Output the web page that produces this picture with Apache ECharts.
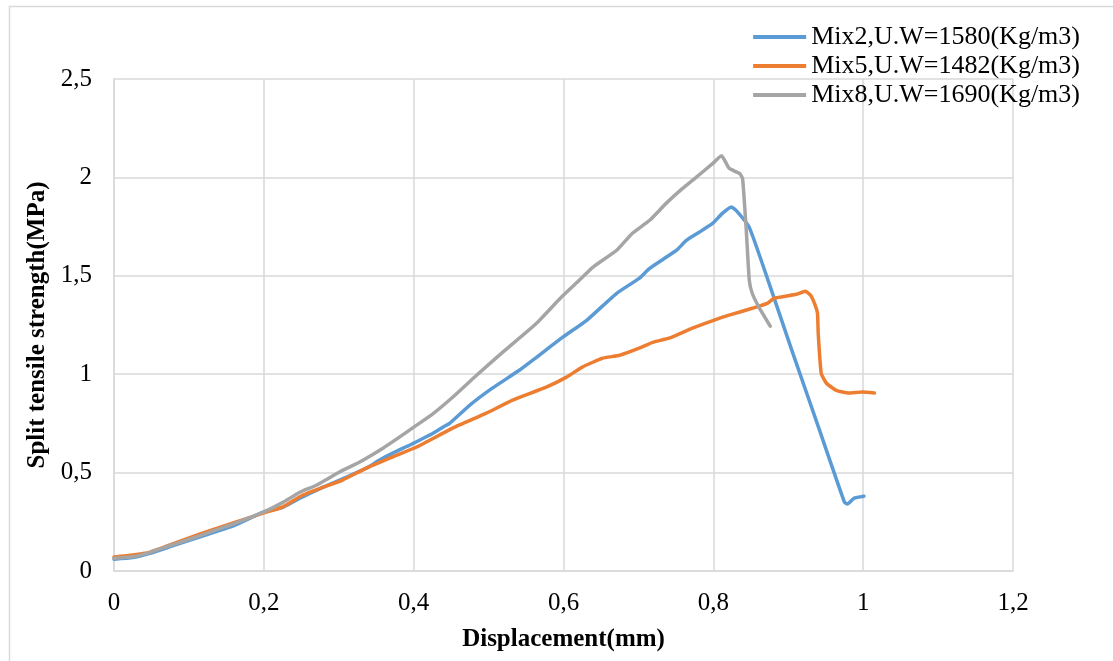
<!DOCTYPE html>
<html>
<head>
<meta charset="utf-8">
<script src="https://cdn.jsdelivr.net/npm/echarts@6/dist/echarts.min.js"></script>
<style>
html,body{margin:0;padding:0;background:#fff;}
#chart{width:1113px;height:661px;}
</style>
</head>
<body>
<div id="chart"></div>
<script>
const seriesNames = ['Mix2,U.W=1580(Kg/m3)', 'Mix5,U.W=1482(Kg/m3)', 'Mix8,U.W=1690(Kg/m3)'];
const xTicks = [0, 0.2, 0.4, 0.6, 0.8, 1.0, 1.2];
const yTicks = [0, 0.5, 1, 1.5, 2, 2.5];

const mix2Data = [[0,0.06],[0.025,0.068],[0.048,0.09],[0.08,0.13],[0.115,0.173],[0.16,0.23],[0.2,0.3],[0.226,0.325],[0.248,0.37],[0.27,0.41],[0.292,0.447],[0.315,0.485],[0.337,0.523],[0.355,0.565],[0.372,0.599],[0.395,0.64],[0.408,0.665],[0.426,0.70],[0.439,0.731],[0.448,0.75],[0.475,0.843],[0.505,0.929],[0.541,1.02],[0.564,1.086],[0.599,1.188],[0.631,1.274],[0.671,1.411],[0.701,1.487],[0.715,1.538],[0.737,1.594],[0.751,1.63],[0.764,1.68],[0.781,1.721],[0.799,1.766],[0.812,1.817],[0.824,1.85],[0.831,1.83],[0.848,1.746],[0.875,1.455],[0.904,1.13],[0.940,0.735],[0.975,0.35],[0.979,0.34],[0.988,0.37],[1.001,0.38]];

const mix5Data = [[0,0.071],[0.025,0.081],[0.048,0.096],[0.071,0.127],[0.115,0.188],[0.159,0.244],[0.199,0.294],[0.225,0.325],[0.252,0.386],[0.279,0.426],[0.305,0.462],[0.337,0.523],[0.372,0.58],[0.404,0.63],[0.452,0.726],[0.497,0.802],[0.532,0.868],[0.577,0.934],[0.604,0.985],[0.625,1.036],[0.652,1.081],[0.675,1.096],[0.701,1.132],[0.719,1.162],[0.741,1.183],[0.772,1.234],[0.804,1.279],[0.821,1.30],[0.852,1.335],[0.872,1.36],[0.881,1.386],[0.911,1.406],[0.923,1.421],[0.930,1.40],[0.935,1.36],[0.939,1.31],[0.940,1.208],[0.944,1.005],[0.951,0.954],[0.964,0.918],[0.981,0.904],[0.999,0.909],[1.015,0.904]];

const mix8Data = [[0,0.065],[0.025,0.072],[0.048,0.095],[0.08,0.135],[0.115,0.18],[0.16,0.24],[0.2,0.3],[0.226,0.35],[0.248,0.40],[0.27,0.436],[0.301,0.503],[0.328,0.554],[0.359,0.624],[0.381,0.68],[0.404,0.741],[0.426,0.80],[0.452,0.883],[0.484,0.995],[0.519,1.112],[0.564,1.259],[0.597,1.391],[0.621,1.477],[0.639,1.543],[0.671,1.63],[0.692,1.716],[0.715,1.782],[0.737,1.868],[0.759,1.944],[0.777,2.0],[0.799,2.07],[0.811,2.11],[0.821,2.046],[0.835,2.02],[0.839,1.995],[0.844,1.73],[0.848,1.477],[0.852,1.41],[0.861,1.34],[0.876,1.244]];

const colors = ['#5B9BD5', '#ED7D31', '#A5A5A5'];
const fontFam = '"Liberation Serif", "Times New Roman", serif';
const fmt = v => String(+(+v).toFixed(1)).replace('.', ',');

const chart = echarts.init(document.getElementById('chart'), null, {renderer: 'canvas'});
const mk = (name, data, color) => ({
  name, type: 'line', data, showSymbol: false, smooth: 0.15,
  lineStyle: {color, width: 3.5, join: 'round', cap: 'round'}, itemStyle: {color}, z: 3
});
chart.setOption({
  backgroundColor: '#fff',
  animation: false,
  color: colors,
  graphic: [{
    type: 'rect', left: 7, top: 4,
    shape: {width: 1200, height: 800},
    style: {fill: 'none', stroke: '#d9d9d9', lineWidth: 1.5}, silent: true, z: -1
  }],
  grid: {left: 114, right: 100, top: 79, bottom: 90, containLabel: false},
  legend: {
    orient: 'vertical', right: 28, top: 19,
    itemWidth: 53, itemHeight: 4, itemGap: 3, icon: 'rect',
    textStyle: {fontFamily: fontFam, fontSize: 26, color: '#000', padding: [0,0,0,0]},
    data: seriesNames
  },
  xAxis: {
    type: 'value', min: xTicks[0], max: xTicks[xTicks.length - 1], interval: 0.2,
    name: 'Displacement(mm)', nameLocation: 'middle', nameGap: 56,
    nameTextStyle: {fontFamily: fontFam, fontSize: 25, fontWeight: 'bold', color: '#000'},
    axisLine: {show: true, lineStyle: {color: '#d9d9d9', width: 1.5}},
    axisTick: {show: false},
    axisLabel: {fontFamily: fontFam, fontSize: 25, color: '#000', margin: 20, formatter: fmt},
    splitLine: {show: true, lineStyle: {color: '#d9d9d9', width: 1.5}}
  },
  yAxis: {
    type: 'value', min: yTicks[0], max: yTicks[yTicks.length - 1], interval: 0.5,
    name: 'Split tensile strength(MPa)', nameLocation: 'middle', nameGap: 64,
    nameTextStyle: {fontFamily: fontFam, fontSize: 25, fontWeight: 'bold', color: '#000'},
    axisLine: {show: true, lineStyle: {color: '#d9d9d9', width: 1.5}},
    axisTick: {show: false},
    axisLabel: {fontFamily: fontFam, fontSize: 25, color: '#000', margin: 22, formatter: fmt},
    splitLine: {show: true, lineStyle: {color: '#d9d9d9', width: 1.5}}
  },
  series: [
    mk(seriesNames[0], mix2Data, colors[0]),
    mk(seriesNames[1], mix5Data, colors[1]),
    mk(seriesNames[2], mix8Data, colors[2])
  ]
});
</script>
</body>
</html>
